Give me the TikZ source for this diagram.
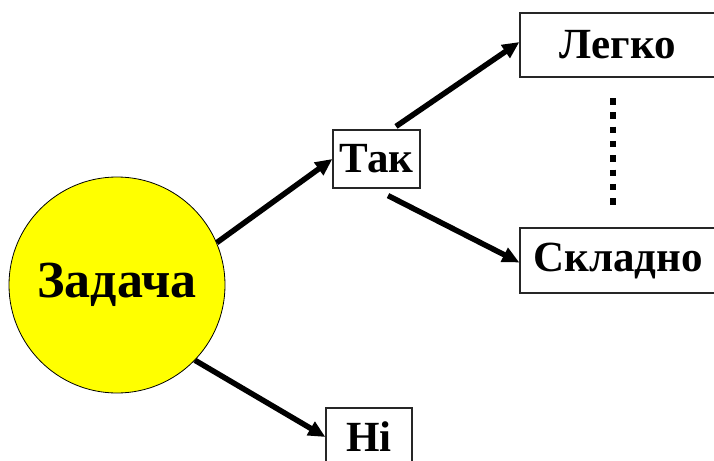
\documentclass[tikz,border=0pt]{standalone}
\usepackage{fontspec}
\setmainfont{Liberation Serif}
\usetikzlibrary{arrows.meta}
\definecolor{pureyellow}{RGB}{255,255,0}
\begin{document}
\begin{tikzpicture}[x=1pt,y=-1pt,
  boxnode/.style={draw=black!85,line width=1.2pt,fill=white,inner sep=0pt,font=\fontsize{43}{47}\selectfont\bfseries},
  arr/.style={line width=5.5pt,-{Triangle[length=17pt,width=15pt]}}]
\useasboundingbox (0,0) rectangle (714,460);
\node[circle,draw=black,line width=0.8pt,fill=pureyellow,minimum size=216pt,inner sep=0pt,
  font=\fontsize{52}{56}\selectfont\bfseries] (zad) at (117,285) {Задача};
\node[boxnode,minimum width=87pt,minimum height=58pt] (tak) at (376.5,159) {Так};
\node[boxnode,minimum width=196pt,minimum height=64pt] (leg) at (618,45) {Легко};
\node[boxnode,minimum width=196pt,minimum height=65pt] (skl) at (618,260.5) {Складно};
\node[boxnode,minimum width=86pt,minimum height=58pt] (ni) at (369,437) {Ні};
\coordinate (d1) at (613,98);
\coordinate (d2) at (613,210);
\draw[line width=6.5pt,dash pattern=on 6.5pt off 7.8pt] (d1) -- (d2);
\draw[arr] (zad.23.6) -- (tak.west);
\draw[arr] ([shift={(19.5,-3)}]tak.north) -- ([yshift=3pt]leg.west);
\draw[arr] ([shift={(11.5,7)}]tak.south) -- ([yshift=-2pt]skl.west);
\draw[arr] (zad.-44) -- (ni.west);
\end{tikzpicture}
\end{document}
